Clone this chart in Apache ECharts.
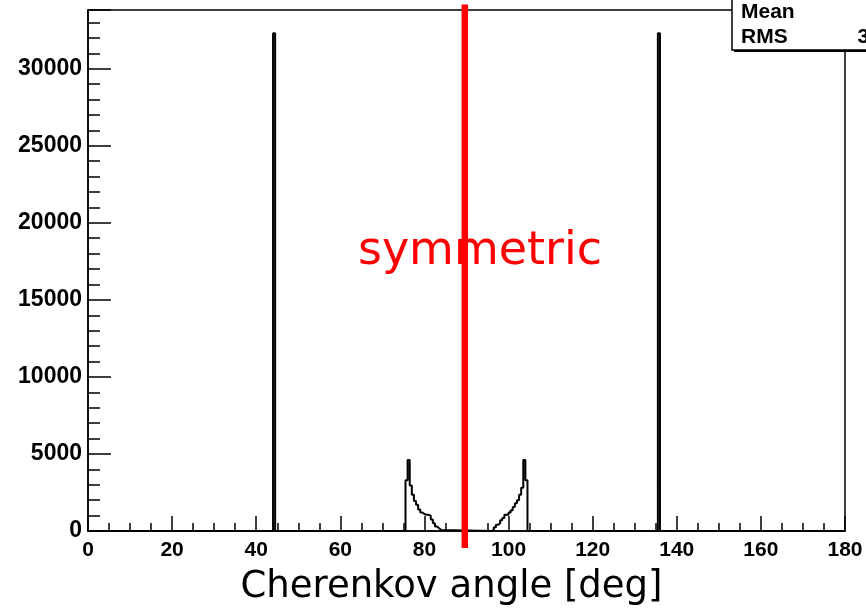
<!DOCTYPE html>
<html>
<head>
<meta charset="utf-8">
<title>Cherenkov angle</title>
<script src="https://cdn.jsdelivr.net/npm/echarts@6/dist/echarts.min.js"></script>
<style>
  html, body { margin: 0; padding: 0; background: #fff; }
  #chart { width: 866px; height: 611px; }
</style>
</head>
<body>
<div id="chart"></div>
<script>
// Histogram of Cherenkov angles, 0.5 deg bins, stored as non-empty runs of bins
const binWidth = 0.5;
const spikeStarts = [44, 135.5];
const spikeCounts = [32300, 32300];
const lowBumpStart = 75.5;
const lowBumpCounts = [3300, 4600, 2950, 2350, 1950, 1700, 1400, 1200, 1100,
                       1050, 1050, 1000, 750, 500, 300, 180, 60];
const highBumpStart = 96;
const highBumpCounts = [100, 250, 400, 500, 700, 850, 1050, 1050, 1200, 1350,
                        1550, 1800, 2000, 2350, 2800, 4600, 3300];

// axis ranges and tick labels
const xRange = [0, 180];
const xTickStep = 20;
const yRange = [0, 33810];
const yTickStep = 5000;

// marker for the mirror axis and statistics box contents
const mirrorAngle = 89.6;
const mirrorSpan = [-1100, 34160];
const statNames = ['Mean', 'RMS'];
const statValues = ['90', '34.13'];

// runs in increasing angle order
const runs = [
  { start: spikeStarts[0], counts: [spikeCounts[0]] },
  { start: lowBumpStart, counts: lowBumpCounts },
  { start: highBumpStart, counts: highBumpCounts },
  { start: spikeStarts[1], counts: [spikeCounts[1]] }
];

// step outline of the histogram, running along zero between runs
function outline() {
  const pts = [[xRange[0], 0]];
  runs.forEach(function (r) {
    let x = r.start;
    pts.push([x, 0]);
    r.counts.forEach(function (c) {
      pts.push([x, c]);
      pts.push([x + binWidth, c]);
      x += binWidth;
    });
    pts.push([x, 0]);
  });
  pts.push([xRange[1], 0]);
  return pts;
}

const chart = echarts.init(document.getElementById('chart'), null, { renderer: 'canvas' });

const labelFont = 'Liberation Sans, Arial, Helvetica, sans-serif';
const handFont = 'Comic Sans MS, DejaVu Sans, sans-serif';
const plain = function (v) { return String(v); };

chart.setOption({
  animation: false,
  backgroundColor: '#fff',
  grid: {
    left: 88, top: 10, width: 757, height: 521,
    show: true, borderColor: '#000', borderWidth: 1.5, backgroundColor: 'transparent'
  },
  xAxis: {
    type: 'value',
    min: xRange[0], max: xRange[1], interval: xTickStep,
    name: 'Cherenkov angle [deg]',
    nameLocation: 'middle',
    nameGap: 38,
    nameTextStyle: { fontFamily: handFont, fontSize: 37, color: '#000', padding: [0, 30, 0, 0] },
    axisLine: { show: true, onZero: false, lineStyle: { color: '#000', width: 1.5 } },
    axisTick: { show: true, inside: true, length: 15, lineStyle: { color: '#000', width: 1.5 } },
    minorTick: { show: true, splitNumber: 4, length: 8, lineStyle: { color: '#000', width: 1.5 } },
    splitLine: { show: false },
    axisLabel: { margin: 9, formatter: plain, fontFamily: labelFont, fontWeight: 'bold', fontSize: 21, color: '#000' }
  },
  yAxis: {
    type: 'value',
    min: yRange[0], max: yRange[1], interval: yTickStep,
    axisLine: { show: true, lineStyle: { color: '#000', width: 1.5 } },
    axisTick: { show: true, inside: true, length: 23, lineStyle: { color: '#000', width: 1.5 } },
    minorTick: { show: true, splitNumber: 5, length: 12, lineStyle: { color: '#000', width: 1.5 } },
    splitLine: { show: false },
    axisLabel: { margin: 6, showMaxLabel: false, formatter: plain, fontFamily: labelFont, fontWeight: 'bold', fontSize: 23, color: '#000' }
  },
  series: [
    {
      type: 'line',
      data: outline(),
      showSymbol: false,
      symbol: 'none',
      lineStyle: { color: '#000', width: 2 },
      clip: false,
      z: 3
    },
    {
      type: 'custom',
      clip: false,
      z: 5,
      data: [[mirrorAngle, mirrorSpan[0], mirrorSpan[1]]],
      renderItem: function (params, api) {
        const p0 = api.coord([api.value(0), api.value(1)]);
        const p1 = api.coord([api.value(0), api.value(2)]);
        return {
          type: 'line',
          shape: { x1: p0[0], y1: p0[1], x2: p1[0], y2: p1[1] },
          style: { stroke: '#ff0000', lineWidth: 6.5 }
        };
      }
    }
  ],
  graphic: [
    {
      type: 'text', z: 10,
      style: {
        text: 'symmetric', x: 480, y: 252,
        align: 'center', verticalAlign: 'middle',
        font: '46px ' + handFont, fill: '#ff0000'
      }
    },
    // statistics box with drop shadow
    { type: 'rect', z: 20, shape: { x: 734, y: -5, width: 200, height: 57 }, style: { fill: '#000' } },
    { type: 'rect', z: 21, shape: { x: 732, y: -5, width: 200, height: 55 }, style: { fill: '#fff', stroke: '#000', lineWidth: 1.5 } },
    { type: 'text', z: 22, style: { text: statNames[0], x: 741, y: 12, align: 'left', verticalAlign: 'middle', font: 'bold 21px ' + labelFont, fill: '#000' } },
    { type: 'text', z: 22, style: { text: statNames[1], x: 741, y: 37.5, align: 'left', verticalAlign: 'middle', font: 'bold 21px ' + labelFont, fill: '#000' } },
    { type: 'text', z: 22, style: { text: statValues[0], x: 910, y: 12, align: 'right', verticalAlign: 'middle', font: 'bold 21px ' + labelFont, fill: '#000' } },
    { type: 'text', z: 22, style: { text: statValues[1], x: 910, y: 37.5, align: 'right', verticalAlign: 'middle', font: 'bold 21px ' + labelFont, fill: '#000' } }
  ]
});
</script>
</body>
</html>
